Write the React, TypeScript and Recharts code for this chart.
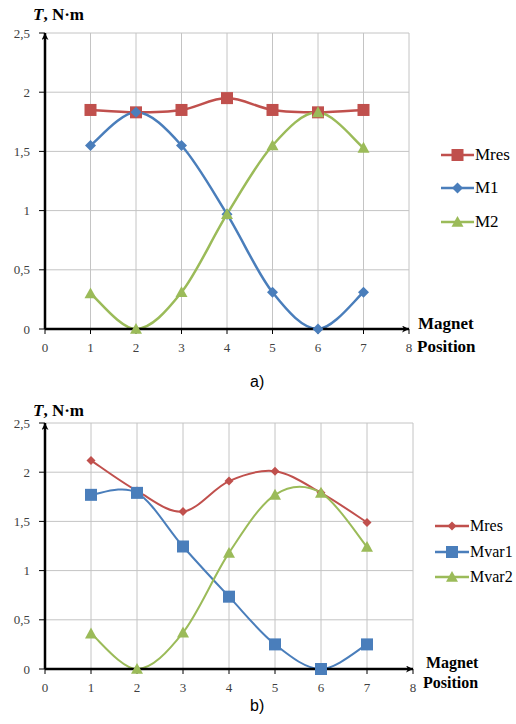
import React from 'react';
import { LineChart, Line, XAxis, YAxis, CartesianGrid } from 'recharts';

// magnet positions and tick labels
const positions = [1, 2, 3, 4, 5, 6, 7];
const xTicks = [0, 1, 2, 3, 4, 5, 6, 7, 8];
const yTicks = [0, 0.5, 1, 1.5, 2, 2.5];

// chart a)
const mresA = [1.85, 1.83, 1.85, 1.95, 1.85, 1.83, 1.85];
const m1A = [1.55, 1.83, 1.55, 0.97, 0.31, 0, 0.31];
const m2A = [0.3, 0, 0.31, 0.97, 1.55, 1.83, 1.53];

// chart b)
const mresB = [2.12, 1.81, 1.6, 1.91, 2.01, 1.79, 1.49];
const mvar1B = [1.77, 1.79, 1.245, 0.735, 0.25, 0, 0.25];
const mvar2B = [0.36, 0, 0.37, 1.18, 1.77, 1.79, 1.24];

const RED = '#c0504d';
const BLUE = '#4a7ebb';
const GREEN = '#9bbb59';
const SERIF = "'Times New Roman', 'Liberation Serif', Tinos, 'DejaVu Serif', serif";

const dataA = positions.map((x, i) => ({ x, mres: mresA[i], m1: m1A[i], m2: m2A[i] }));
const dataB = positions.map((x, i) => ({ x, mres: mresB[i], mvar1: mvar1B[i], mvar2: mvar2B[i] }));

// Excel style smoothed line (Catmull-Rom through the points)
const smoothCurve = (ctx: any) => {
  let pts: number[][] = [];
  return {
    areaStart() {},
    areaEnd() {},
    lineStart() { pts = []; },
    point(x: number, y: number) { pts.push([+x, +y]); },
    lineEnd() {
      if (!pts.length) return;
      ctx.moveTo(pts[0][0], pts[0][1]);
      for (let i = 0; i < pts.length - 1; i++) {
        const p0 = pts[i - 1] || pts[i];
        const p1 = pts[i];
        const p2 = pts[i + 1];
        const p3 = pts[i + 2] || p2;
        ctx.bezierCurveTo(
          p1[0] + (p2[0] - p0[0]) / 6, p1[1] + (p2[1] - p0[1]) / 6,
          p2[0] - (p3[0] - p1[0]) / 6, p2[1] - (p3[1] - p1[1]) / 6,
          p2[0], p2[1]
        );
      }
    },
  };
};

type Marker = 'square' | 'diamond' | 'triangle';

const MarkerShape = ({ kind, cx, cy, size, color }: { kind: Marker; cx: number; cy: number; size: number; color: string }) => {
  const h = size / 2;
  if (kind === 'square') return <rect x={cx - h} y={cy - h} width={size} height={size} fill={color} />;
  if (kind === 'diamond') return <polygon points={`${cx},${cy - h} ${cx + h},${cy} ${cx},${cy + h} ${cx - h},${cy}`} fill={color} />;
  return <polygon points={`${cx},${cy - h} ${cx + h},${cy + h * 0.8} ${cx - h},${cy + h * 0.8}`} fill={color} />;
};

const dotFor = (kind: Marker, size: number, color: string) => (p: any) => (
  <MarkerShape key={`${kind}-${p.index}`} kind={kind} cx={p.cx} cy={p.cy} size={size} color={color} />
);

interface SeriesDef {
  key: string;
  name: string;
  color: string;
  marker: Marker;
  size: number;
}

interface TorqueChartProps {
  id: string;
  data: any[];
  series: SeriesDef[];
  top: number;
  height: number;
  marginRight: number;
  strokeWidth: number;
}

const fmt = (v: number) => String(v).replace('.', ',');

const TorqueChart: React.FC<TorqueChartProps> = ({ id, data, series, top, height, marginRight, strokeWidth }) => (
  <div style={{ position: 'absolute', left: 0, top }}>
    <LineChart width={516} height={height} data={data} margin={{ top: 33, right: marginRight, bottom: 21, left: 10 }}>
      <defs>
        <marker id={`arrow-${id}`} viewBox="0 0 10 10" refX="10" refY="5" markerWidth="7" markerHeight="7" orient="auto-start-reverse" markerUnits="userSpaceOnUse">
          <path d="M0,0 L10,5 L0,10 L3,5 z" fill="#000" />
        </marker>
      </defs>
      <CartesianGrid stroke="#c4c4c4" strokeWidth={1} />
      <XAxis
        dataKey="x"
        type="number"
        domain={[0, 8]}
        ticks={xTicks}
        height={20}
        axisLine={{ stroke: '#000', strokeWidth: 2.5, markerEnd: `url(#arrow-${id})` }}
        tickLine={{ stroke: '#000' }}
        tickSize={5}
        tickMargin={9}
        tick={{ fill: '#404040', fontSize: 13, fontFamily: SERIF }}
      />
      <YAxis
        type="number"
        domain={[0, 2.5]}
        ticks={yTicks}
        width={35}
        axisLine={{ stroke: '#000', strokeWidth: 2.5, markerStart: `url(#arrow-${id})` }}
        tickLine={{ stroke: '#000' }}
        tickSize={6}
        tickMargin={9}
        tickFormatter={fmt}
        tick={{ fill: '#404040', fontSize: 13, fontFamily: SERIF }}
      />
      {series.map(s => (
        <Line
          key={s.key}
          dataKey={s.key}
          name={s.name}
          type={smoothCurve as any}
          stroke={s.color}
          strokeWidth={strokeWidth}
          dot={dotFor(s.marker, s.size, s.color)}
          activeDot={false}
          isAnimationActive={false}
        />
      ))}
    </LineChart>
  </div>
);

const LegendBox = ({ series, left, rows, lineW, fontSize }: { series: SeriesDef[]; left: number; rows: number[]; lineW: number; fontSize: number }) => (
  <>
    {series.map((s, i) => (
      <div key={s.key} style={{ position: 'absolute', left, top: rows[i] - 12, height: 24, display: 'flex', alignItems: 'center', whiteSpace: 'nowrap' }}>
        <svg width={lineW} height={16}>
          <line x1={0} y1={8} x2={lineW} y2={8} stroke={s.color} strokeWidth={2.5} />
          <MarkerShape kind={s.marker} cx={lineW / 2} cy={8} size={s.size} color={s.color} />
        </svg>
        <span style={{ fontFamily: SERIF, fontSize, color: '#000', marginLeft: 1 }}>{s.name}</span>
      </div>
    ))}
  </>
);

const Txt = ({ x, y, size, children, bold, family }: any) => (
  <div style={{ position: 'absolute', left: x, top: y - size * 0.6, fontSize: size, lineHeight: `${size * 1.2}px`, fontFamily: family || SERIF, fontWeight: bold ? 'bold' : 'normal', whiteSpace: 'nowrap', color: '#000' }}>
    {children}
  </div>
);

const seriesA: SeriesDef[] = [
  { key: 'mres', name: 'Mres', color: RED, marker: 'square', size: 12 },
  { key: 'm1', name: 'M1', color: BLUE, marker: 'diamond', size: 11 },
  { key: 'm2', name: 'M2', color: GREEN, marker: 'triangle', size: 12 },
];

const seriesB: SeriesDef[] = [
  { key: 'mres', name: 'Mres', color: RED, marker: 'diamond', size: 9 },
  { key: 'mvar1', name: 'Mvar1', color: BLUE, marker: 'square', size: 12 },
  { key: 'mvar2', name: 'Mvar2', color: GREEN, marker: 'triangle', size: 12 },
];

export default function App() {
  return (
    <div style={{ position: 'absolute', left: 0, top: 0, width: 516, height: 724, overflow: 'hidden', background: '#fff' }}>
      <TorqueChart id="a" data={dataA} series={seriesA} top={0} height={370} marginRight={107} strokeWidth={2.5} />
      <TorqueChart id="b" data={dataB} series={seriesB} top={390} height={320} marginRight={103} strokeWidth={2} />

      <Txt x={33} y={15} size={17} bold><i>T</i>, N·m</Txt>
      <Txt x={33} y={411} size={17} bold><i>T</i>, N·m</Txt>

      <Txt x={418} y={324} size={17} bold>Magnet</Txt>
      <Txt x={417} y={347} size={17} bold>Position</Txt>
      <Txt x={426} y={663} size={16} bold>Magnet</Txt>
      <Txt x={423} y={683} size={16} bold>Position</Txt>

      <Txt x={250} y={382} size={16} family="'Liberation Sans', Arial, sans-serif">a)</Txt>
      <Txt x={250} y={706} size={16} family="'Liberation Sans', Arial, sans-serif">b)</Txt>

      <LegendBox series={seriesA} left={441} rows={[155, 188, 222]} lineW={33} fontSize={17} />
      <LegendBox series={seriesB} left={435} rows={[526, 552, 577]} lineW={34} fontSize={16} />
    </div>
  );
}
